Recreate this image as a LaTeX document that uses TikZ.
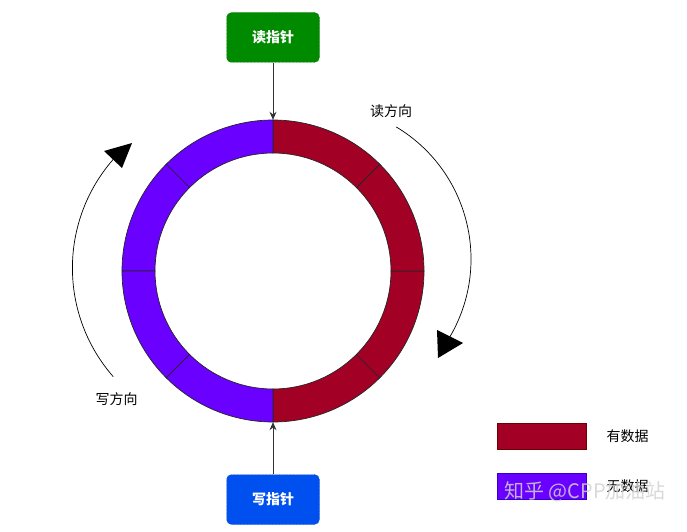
\documentclass[tikz,border=0pt]{standalone}
\usepackage{fontspec}
\setmainfont{Noto Sans CJK SC}
\usetikzlibrary{positioning}
\usetikzlibrary{arrows.meta}
\definecolor{full}{HTML}{A20025}
\definecolor{fullline}{HTML}{6F0000}
\definecolor{empty}{HTML}{6A00FF}
\definecolor{emptyline}{HTML}{3700CC}
\definecolor{rdgreen}{HTML}{008A00}
\definecolor{wrblue}{HTML}{0050EF}
\tikzset{ptr/.style={rectangle, rounded corners=5pt, draw, densely dotted,
   minimum width=93pt, minimum height=50pt, text=white,
   font=\fontsize{14}{16}\selectfont\bfseries}}
\tikzset{lbl/.style={font=\fontsize{14}{16}\selectfont}}
\tikzset{key/.style={rectangle, draw, minimum width=89pt, minimum height=26pt}}
\tikzset{slot/.style={draw=black!85, line width=0.7pt}}
\tikzset{feed/.style={draw=black!80, line width=0.9pt, -{Stealth[length=8pt,width=7pt]}}}

\begin{document}
\begin{tikzpicture}[x=1pt,y=1pt]

    \useasboundingbox (0,0) rectangle (687,531);

    % ring buffer
    \begin{scope}[shift={(273,260)}]
      \foreach \a in {-90,-45,0,45}
        \filldraw[slot, fill=full] (\a:118) -- (\a:151) arc[start angle=\a, delta angle=45, radius=151]
          -- ({\a+45}:118) arc[start angle={\a+45}, delta angle=-45, radius=118] -- cycle;
      \foreach \a in {90,135,180,225}
        \filldraw[slot, fill=empty] (\a:118) -- (\a:151) arc[start angle=\a, delta angle=45, radius=151]
          -- ({\a+45}:118) arc[start angle={\a+45}, delta angle=-45, radius=118] -- cycle;
    \end{scope}
    \node[circle, minimum size=302pt, inner sep=0pt] (ring) at (273,260) {};

    \node[ptr, fill=rdgreen, draw=rdgreen!60!black] (rd) at (273,493.5) {读指针};
    \node[ptr, fill=wrblue, draw=wrblue!60!black] (wr) at (273,31.5) {写指针};
    \draw[feed] (rd) -- (ring.north);
    \draw[feed] (wr) -- (ring.south);

    % directions
    \coordinate (rdc) at (317,272);
    \coordinate (wrc) at (237.4,263);
    \draw[line width=0.7pt] (rdc) ++(59:154) arc[start angle=59, end angle=-30.4, radius=154];
    \fill (437,201) -- (463,188) -- (438,173) -- cycle;
    \draw[line width=0.7pt] (wrc) ++(221.2:165) arc[start angle=221.2, end angle=138.6, radius=165];
    \fill (104,380) -- (132,388) -- (122,363) -- cycle;
    \node[lbl] (rdir) at (391,420) {读方向};
    \node[lbl] (wdir) at (116.5,132) {写方向};

    % legend
    \node[key, fill=full, draw=fullline] (kfull) at (541.5,95) {};
    \node[lbl, right=17pt of kfull] (tfull) {有数据};
    \node[key, fill=empty, draw=emptyline] (kempty) at (541.5,44.5) {};
    \node[lbl, right=17pt of kempty] (tempty) {无数据};

    \node[font=\fontsize{20}{22}\selectfont, text=gray!35, opacity=0.85] (mark) at (585,39) {知乎 @CPP加油站};

  \end{tikzpicture}
\end{document}
